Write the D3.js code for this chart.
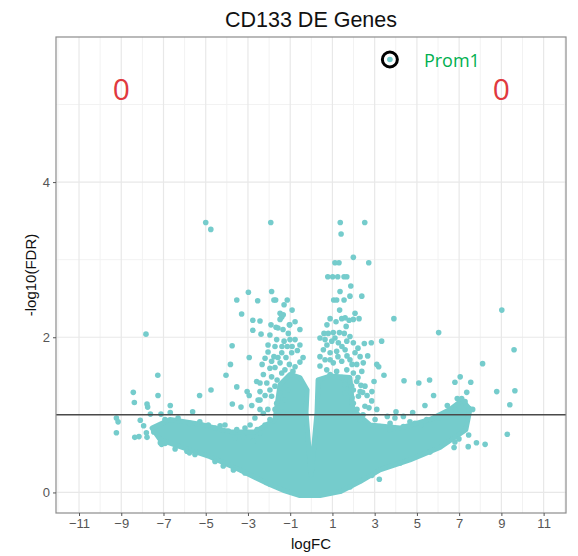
<!DOCTYPE html>
<html>
<head>
<meta charset="utf-8">
<script src="https://cdn.jsdelivr.net/npm/d3@7"></script>
<style>
  body { margin: 0; background: #fff; }
  svg { display: block; font-family: "Liberation Sans", Arial, sans-serif; }
</style>
</head>
<body>
<svg id="chart"></svg>
<script>
const width = 578;
const height = 556;

// ---- data ----
const xTicks = [-11, -9, -7, -5, -3, -1, 1, 3, 5, 7, 9, 11];
const yTicks = [0, 2, 4];
const fdrCutoff = 1;

// dense core of the cloud (outline of the solid mass)
const bodyX = [-7.54, -6.69, -5.27, -3.85, -2.67, -1.72, -1.48, -1.01, -0.54, -0.20, -0.25, -0.01,
  0.27, 0.32, 0.88, 1.83, 1.97, 2.78, 4.20, 5.62, 6.57, 7.14, 7.51, 7.32, 6.09, 4.67, 3.25,
  2.31, 1.36, 0.41, -0.54, -1.25, -2.19, -3.38, -4.80, -6.22, -7.16];
const bodyY = [0.83, 0.94, 0.88, 0.78, 0.78, 0.94, 1.39, 1.52, 1.48, 1.32, 1.03, 0.22,
  1.03, 1.45, 1.50, 1.48, 1.06, 0.87, 0.83, 0.94, 1.07, 1.19, 1.07, 0.81, 0.58, 0.42, 0.29,
  0.14, 0.01, -0.04, -0.04, 0.02, 0.13, 0.29, 0.46, 0.59, 0.68];

// genes that stand out of the core
const geneX = [-5.00, -4.76, -1.92, 1.37, 2.53, 1.41, 1.99, 2.72, 1.12, 1.31, 0.78, 1.01, 1.25, 1.55, 1.68,
  1.87, 1.36, 2.39, 1.06, 1.20, 1.55, 1.83, 1.34, 2.07, 3.91, 0.89, 1.44, 1.79, 1.99, 2.26, 1.65,
  9.02, 6.03, 9.60, 8.11, -7.83, -3.75, -3.83, -4.04, -7.27, -8.43, -7.26, -8.38, -7.78, -7.75,
  -5.29, -6.68, -5.62, -9.23, -9.15, -9.23, -8.36, -8.16, -8.10, -7.94, -7.81, -7.78, -7.46, -7.62,
  -7.12, -6.68, -7.15, -5.89, -5.28, -4.75, -3.53, -3.74, -3.33, -2.82, -2.43, -3.04, -2.94, -2.43,
  -2.59, -2.94, -2.98, -1.88, -3.53, -2.54, -1.77, -1.69, -1.14, -3.30, -1.48, -1.40, -2.77, -2.43,
  -1.91, -1.67, -1.02, -2.77, -2.38, -4.88, -4.32, -3.93, -3.53, -3.22, -2.75, -2.43, -4.17, -3.69,
  -7.09, -5.77,
  -1.48, -1.33, -1.04, -1.09, -1.01, -1.29, -1.64, -1.72, -1.14, -1.40, -1.77, -0.93, -0.66, -2.19,
  -1.88, -1.48, -1.04, -0.77, -1.96, -2.27, -1.88, -1.40, -2.11, -1.72, -2.19, -1.88, -1.64, -2.06,
  -2.27, -1.96,
  -1.29, -0.91, -1.58, -0.77, -0.54, -1.34, -1.96, -0.77, -0.54, -2.05, -1.39, -0.91, -0.39, -1.20,
  -1.58, -2.05, -2.33, -1.72, -1.25, -0.54, -0.87, -1.62, -2.43, -1.96, -1.48, -2.52, -1.72, -1.25,
  -2.43, -1.34, -2.67, -1.10, -2.19, -2.90, -2.57,
  0.60, 0.80, 1.04, 1.33, 1.56, 0.65, 0.97, 1.28, 1.68, 1.99, 0.57, 0.89, 1.20, 1.60, 2.07, 2.31,
  0.65, 1.04, 1.44, 1.83, 2.15, 2.46, 0.73, 1.20, 1.68, 1.99, 2.39, 2.15, 2.54, 1.91, 2.23, 1.99,
  2.54, 1.83,
  0.41, 1.12, 1.45, 0.74, 0.41, 0.89, 1.26, 1.69, 1.93, 0.41, 0.89, 1.45, 2.21, 1.60, 2.31, 1.93,
  2.64, 2.16, 2.45, 2.87, 1.60, 2.21, 1.83, 0.74, 1.17, 1.60,
  2.51, 2.84, 3.33, 2.67, 3.10, 3.19, 3.44, 2.97, 4.39, 5.09, 5.60, 2.35, 1.99, 2.43, 2.86, 2.73,
  3.10, 3.60, 4.01, 4.36, 4.80, 5.38, 3.22, 6.80, 7.05, 7.55, 8.78, 9.64, 9.40, 5.79, 7.36, 6.44,
  6.91, 7.12, 7.48, 7.64, 5.18, 4.36, 7.45, 6.99, 6.76, 7.43, 7.82, 8.23, 9.28, 3.25, 3.73, 4.67,
  5.46, 3.96,
  -6.93, -6.31, -5.74, -4.56, -4.09, -3.14, -3.61, -6.93, -6.45, -5.51, -4.56, -3.14, -1.96,
  2.31, 3.02, 3.73, 4.91, 6.09, 6.80, 7.28, 6.80, 5.62, 4.20, 2.87, 1.83];
const geneY = [3.48, 3.39, 3.48, 3.48, 3.48, 3.33, 3.03, 2.96, 2.96, 2.96, 2.78, 2.78, 2.78, 2.78, 2.78,
  2.66, 2.59, 2.53, 2.48, 2.48, 2.48, 2.53, 2.35, 2.31, 2.24, 2.24, 2.24, 2.22, 2.23, 2.24, 2.14,
  2.35, 2.06, 1.84, 1.66, 2.04, 1.89, 1.65, 1.51, 1.51, 1.29, 1.25, 1.16, 1.14, 1.10,
  1.25, 1.12, 1.04, 0.96, 0.91, 0.77, 0.71, 0.72, 0.93, 0.86, 0.77, 0.71, 0.78, 1.01,
  1.01, 1.03, 0.64, 0.53, 0.91, 1.32, 1.36, 1.14, 1.10, 1.12, 1.19, 1.30, 1.25, 1.30,
  1.43, 1.74, 2.58, 2.59, 2.48, 2.47, 2.48, 2.48, 2.48, 2.30, 2.31, 2.26, 2.22, 2.21,
  2.16, 2.13, 2.16, 2.09, 2.04, 0.87, 0.86, 0.79, 0.81, 0.72, 0.66, 0.77, 0.34, 0.29,
  0.62, 0.51,
  2.23, 2.29, 2.16, 2.05, 1.97, 1.95, 1.97, 1.88, 1.88, 1.80, 1.75, 1.80, 1.83, 1.73,
  1.69, 1.67, 1.65, 1.62, 1.60, 1.52, 1.49, 1.54, 1.41, 1.37, 1.25, 1.24, 1.15, 1.07,
  1.02, 0.94,
  2.42, 2.35, 2.12, 2.20, 2.10, 2.10, 2.03, 1.97, 1.90, 1.90, 1.88, 1.88, 1.74, 1.74,
  1.74, 1.81, 1.65, 1.61, 1.58, 1.68, 1.56, 1.45, 1.41, 1.32, 1.28, 1.19, 1.07, 1.19,
  1.07, 1.04, 0.96, 1.32, 0.87, 0.87, 0.81,
  2.05, 2.05, 2.06, 2.06, 2.05, 1.97, 1.95, 1.93, 1.95, 1.93, 1.84, 1.80, 1.82, 1.84, 1.80, 1.75,
  1.71, 1.67, 1.69, 1.71, 1.65, 1.67, 1.58, 1.56, 1.58, 1.54, 1.56, 1.43, 1.37, 1.37, 1.24, 1.15,
  1.11, 1.02,
  1.99, 1.99, 1.88, 1.90, 1.75, 1.71, 1.75, 1.76, 1.65, 1.63, 1.52, 1.48, 1.48, 1.39, 1.30, 1.22,
  1.25, 1.07, 1.00, 1.30, 1.28, 1.86, 2.01, 2.16, 2.20, 2.25,
  1.92, 1.93, 1.95, 1.76, 1.65, 1.62, 1.51, 1.43, 1.44, 1.41, 1.45, 1.38, 1.32, 1.29, 1.18, 1.09,
  1.07, 0.98, 1.04, 0.98, 1.03, 1.12, 0.17, 1.42, 1.49, 1.42, 1.30, 1.31, 1.13, 1.25, 1.29, 1.12,
  1.21, 1.21, 1.08, 1.07, 0.87, 0.85, 0.74, 0.69, 0.58, 0.59, 0.64, 0.62, 0.75, 0.85, 0.81, 0.91,
  0.94, 0.96,
  0.94, 0.96, 0.89, 0.83, 0.87, 0.83, 0.70, 0.63, 0.56, 0.49, 0.40, 0.25, 0.11,
  0.94, 0.94, 0.89, 0.89, 0.96, 1.07, 1.17, 0.65, 0.52, 0.38, 0.22, 0.07];

// highlighted gene and the hand-added count labels
const highlightGene = {name: "Prom1", logFC: 3.72, fdr: 5.58};
const countLabels = ["0", "0"];
const countX = [-9.0, 9.0];
const countY = [5.2, 5.2];

// ---- scales ----
const panel = {left: 56, right: 566, top: 37, bottom: 513};
const x = d3.scaleLinear().domain([-12.09, 12.06]).range([panel.left, panel.right]);
const y = d3.scaleLinear().domain([-0.265, 5.87]).range([panel.bottom, panel.top]);

const pointColor = "#75cccc";

const svg = d3.select("#chart")
  .attr("width", width)
  .attr("height", height)
  .attr("viewBox", [0, 0, width, height]);

svg.append("rect").attr("width", width).attr("height", height).attr("fill", "#fff");

// grid (minor then major)
const xMinor = d3.range(-12, 13, 2);
const yMinor = [1, 3, 5];
const grid = svg.append("g");
grid.selectAll("line.xminor").data(xMinor).join("line")
  .attr("x1", d => x(d)).attr("x2", d => x(d))
  .attr("y1", panel.top).attr("y2", panel.bottom)
  .attr("stroke", "#f2f2f2").attr("stroke-width", 1);
grid.selectAll("line.yminor").data(yMinor).join("line")
  .attr("x1", panel.left).attr("x2", panel.right)
  .attr("y1", d => y(d)).attr("y2", d => y(d))
  .attr("stroke", "#f2f2f2").attr("stroke-width", 1);
grid.selectAll("line.xmajor").data(xTicks).join("line")
  .attr("x1", d => x(d)).attr("x2", d => x(d))
  .attr("y1", panel.top).attr("y2", panel.bottom)
  .attr("stroke", "#e8e8e8").attr("stroke-width", 1.2);
grid.selectAll("line.ymajor").data(yTicks).join("line")
  .attr("x1", panel.left).attr("x2", panel.right)
  .attr("y1", d => y(d)).attr("y2", d => y(d))
  .attr("stroke", "#e8e8e8").attr("stroke-width", 1.2);

// dense core
const body = d3.zip(bodyX, bodyY);
svg.append("path")
  .attr("d", d3.line().x(d => x(d[0])).y(d => y(d[1])).curve(d3.curveLinearClosed)(body))
  .attr("fill", pointColor)
  .attr("stroke", pointColor)
  .attr("stroke-width", 5)
  .attr("stroke-linejoin", "round");

// scattered genes
svg.append("g").selectAll("circle")
  .data(d3.zip(geneX, geneY))
  .join("circle")
  .attr("cx", d => x(d[0]))
  .attr("cy", d => y(d[1]))
  .attr("r", 2.8)
  .attr("fill", pointColor);

// FDR threshold
svg.append("line")
  .attr("x1", panel.left).attr("x2", panel.right)
  .attr("y1", y(fdrCutoff)).attr("y2", y(fdrCutoff))
  .attr("stroke", "#4a4a4a").attr("stroke-width", 1.5);

// highlighted gene
svg.append("circle")
  .attr("cx", x(highlightGene.logFC)).attr("cy", y(highlightGene.fdr))
  .attr("r", 2.8).attr("fill", pointColor);
svg.append("circle")
  .attr("cx", x(highlightGene.logFC)).attr("cy", y(highlightGene.fdr))
  .attr("r", 7.5).attr("fill", "none")
  .attr("stroke", "#000").attr("stroke-width", 3);
svg.append("text")
  .attr("x", x(highlightGene.logFC) + 34)
  .attr("y", y(highlightGene.fdr) + 7)
  .attr("fill", "#00b050")
  .attr("font-family", "'Open Sans', 'Noto Sans', sans-serif")
  .attr("font-size", 18)
  .text(highlightGene.name);

// count labels
svg.append("g").selectAll("text")
  .data(countLabels)
  .join("text")
  .attr("x", (d, i) => x(countX[i]))
  .attr("y", (d, i) => y(countY[i]) + 11)
  .attr("text-anchor", "middle")
  .attr("fill", "#e0393e")
  .attr("font-family", "'Open Sans', 'Noto Sans', sans-serif")
  .attr("font-size", 30)
  .text(d => d);

// panel border
svg.append("rect")
  .attr("x", panel.left).attr("y", panel.top)
  .attr("width", panel.right - panel.left).attr("height", panel.bottom - panel.top)
  .attr("fill", "none").attr("stroke", "#8c8c8c").attr("stroke-width", 1.2);

// axes
const xAxis = svg.append("g")
  .attr("transform", `translate(0,${panel.bottom})`)
  .call(d3.axisBottom(x).tickValues(xTicks).tickFormat(d3.format("d")).tickSize(3).tickPadding(3));
const yAxis = svg.append("g")
  .attr("transform", `translate(${panel.left},0)`)
  .call(d3.axisLeft(y).tickValues(yTicks).tickFormat(d3.format("d")).tickSize(3).tickPadding(3));
[xAxis, yAxis].forEach(a => {
  a.select(".domain").remove();
  a.selectAll(".tick line").attr("stroke", "#555");
  a.selectAll(".tick text")
    .attr("fill", "#555")
    .attr("font-size", 13)
    .attr("font-family", "'Liberation Sans', Arial, sans-serif");
});

// titles
svg.append("text")
  .attr("x", (panel.left + panel.right) / 2).attr("y", 27)
  .attr("text-anchor", "middle")
  .attr("font-size", 21.5)
  .attr("fill", "#111")
  .text("CD133 DE Genes");
svg.append("text")
  .attr("x", (panel.left + panel.right) / 2).attr("y", 549)
  .attr("text-anchor", "middle")
  .attr("font-size", 15)
  .attr("fill", "#111")
  .text("logFC");
svg.append("text")
  .attr("transform", `translate(36,${(panel.top + panel.bottom) / 2}) rotate(-90)`)
  .attr("text-anchor", "middle")
  .attr("font-size", 15)
  .attr("fill", "#111")
  .text("-log10(FDR)");
</script>
</body>
</html>
